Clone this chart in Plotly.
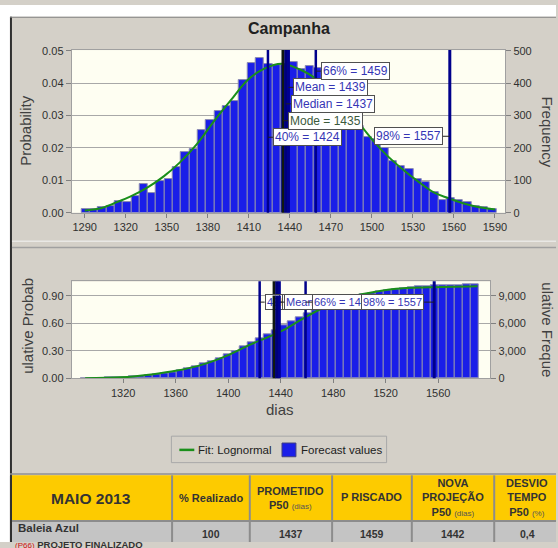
import numpy as np
import plotly.graph_objects as go

# ---------------- data ----------------
BIN_START = 1287.6          # left edge of first histogram bin (days)
BIN_WIDTH = 6.07            # bin width (days)
freq = [10, 12, 17, 20, 35, 32, 50, 88, 60, 98,
        105, 141, 186, 196, 256, 286, 314, 330, 345, 410,
        462, 476, 460, 456, 455, 466, 443, 453, 446, 372,
        338, 306, 284, 266, 232, 226, 199, 160, 145, 136,
        104, 96, 64, 38, 45, 40, 33, 21, 16, 12]

fit_x = [1290, 1301, 1312, 1324, 1336, 1348, 1360, 1372, 1385, 1397, 1409,
         1421, 1434, 1449, 1459, 1471, 1483, 1492, 1502, 1511, 1522, 1534,
         1546, 1556, 1566, 1575, 1590]
fit_p = [0.0007, 0.0013, 0.0030, 0.0051, 0.0078, 0.0113, 0.0157, 0.0212,
         0.0285, 0.0348, 0.0409, 0.0444, 0.0460, 0.0439, 0.0414, 0.0365,
         0.0308, 0.0268, 0.0217, 0.0177, 0.0136, 0.0096, 0.0061, 0.0045,
         0.0030, 0.0020, 0.0010]

cum_fit_x = [1291, 1318, 1343, 1360, 1381, 1401, 1414, 1431, 1442, 1459,
             1478, 1496, 1515, 1528, 1553, 1590]
cum_fit_p = [0.0, 0.011, 0.046, 0.082, 0.153, 0.26, 0.35, 0.456, 0.526,
             0.67, 0.81, 0.90, 0.953, 0.98, 0.996, 1.007]

marker_names = ["40%", "Mode", "Median", "Mean", "66%", "98%"]
marker_vals = [1424, 1435, 1437, 1439, 1459, 1557]
top_label_y = [0.0233, 0.0284, 0.0336, 0.0387, 0.0437, 0.0236]
bottom_label_y = 0.833

top_xticks = [1290, 1320, 1350, 1380, 1410, 1440, 1470, 1500, 1530, 1560, 1590]
bottom_xticks = [1320, 1360, 1400, 1440, 1480, 1520, 1560]

legend_labels = ["Fit: Lognormal", "Forecast values"]

table_header = ["MAIO 2013", "% Realizado", "PROMETIDO", "P RISCADO",
                "NOVA<br>PROJEÇÃO", "DESVIO<br>TEMPO"]
table_row = ["Baleia Azul", "100", "1437", "1459", "1442", "0,4"]

# ---------------- styling helpers ----------------
W, H = 558, 548
def px(x):
    return x / W
def py(y):
    return 1 - y / H

FONT = "Liberation Sans, Arial, sans-serif"
BG = "#d4d0c8"
BLUE = "#1a1ee8"
GREEN = "#1a8f1a"
LABEL_BLUE = "#3535b5"
LINE_COLORS = ["#00008b", "#101810", "#00007a", "#000090", "#00008b", "#00008b"]
LINE_WIDTHS = [2.5, 3, 3, 3, 2.5, 3]

X_TOP = [1280.5, 1597.5]
X_BOT = [1280.8, 1599.7]
Y4_RANGE = [0, 1.06]
BOT_PLOT_PX = 99.0          # height of the cumulative plot area in pixels

centers = BIN_START + BIN_WIDTH * (np.arange(len(freq)) + 0.5)
cum_freq = np.cumsum(freq)

fig = go.Figure()
fig.add_trace(go.Bar(x=centers, y=freq, width=BIN_WIDTH, xaxis="x", yaxis="y",
                     marker=dict(color=BLUE, line=dict(color="#8c8cb0", width=1)),
                     name=legend_labels[1], showlegend=False, hoverinfo="skip"))
fig.add_trace(go.Scatter(x=fit_x, y=fit_p, xaxis="x", yaxis="y2", mode="lines",
                         line=dict(color=GREEN, width=2, shape="spline"),
                         name=legend_labels[0], showlegend=False, hoverinfo="skip"))
fig.add_trace(go.Bar(x=centers, y=cum_freq, width=BIN_WIDTH, xaxis="x2", yaxis="y3",
                     marker=dict(color=BLUE, line=dict(color="#8c8cb0", width=1)),
                     showlegend=False, hoverinfo="skip"))
fig.add_trace(go.Scatter(x=cum_fit_x, y=cum_fit_p, xaxis="x2", yaxis="y4", mode="lines",
                         line=dict(color=GREEN, width=2, shape="spline"),
                         showlegend=False, hoverinfo="skip"))

tickfont = dict(family=FONT, size=11, color="#303030")
axcommon = dict(showline=True, linecolor="#a0a0a0", linewidth=1, ticks="outside",
                tickcolor="#808080", tickfont=tickfont, zeroline=False)

fig.update_layout(
    width=W, height=H, margin=dict(l=0, r=0, t=0, b=0),
    paper_bgcolor=BG, plot_bgcolor="#fefef2",
    bargap=0, barmode="overlay", showlegend=False, hovermode=False,
    font=dict(family=FONT, color="#303030"),
    xaxis=dict(domain=[px(72), px(507)], anchor="y", range=X_TOP, tickvals=top_xticks,
               ticklen=4, mirror=True, showgrid=False, **axcommon),
    yaxis=dict(anchor="x", side="right", range=[0, 502], dtick=100, ticklen=5,
               domain=[py(212), py(46)], mirror=True, showgrid=True,
               gridcolor="#a8a8a8", gridwidth=1, **axcommon),
    yaxis2=dict(anchor="x", overlaying="y", side="left", range=[0, 0.0502], dtick=0.01,
                tickformat=".2f", ticklen=5, showgrid=False, **axcommon),
    xaxis2=dict(domain=[px(72), px(492)], anchor="y3", range=X_BOT, tickvals=bottom_xticks,
                ticklen=4, mirror=True, showgrid=False, **axcommon),
    yaxis3=dict(anchor="x2", side="right", range=[0, 10600], tickvals=[0, 3000, 6000, 9000],
                tickformat=",d", ticklen=5, domain=[py(381), py(381 - BOT_PLOT_PX)], mirror=True,
                showgrid=True, gridcolor="#a8a8a8", gridwidth=1, **axcommon),
    yaxis4=dict(anchor="x2", overlaying="y3", side="left", range=Y4_RANGE,
                tickvals=[0, 0.3, 0.6, 0.9], tickformat=".2f", ticklen=5,
                showgrid=False, **axcommon),
)

shapes = []
# frame decorations
shapes += [
    dict(type="rect", xref="paper", yref="paper", x0=0, x1=px(10), y0=0, y1=1,
         fillcolor="white", line=dict(width=0), layer="below"),
    dict(type="rect", xref="paper", yref="paper", x0=0, x1=1, y0=py(12), y1=1,
         fillcolor="white", line=dict(width=0), layer="below"),
    dict(type="line", xref="paper", yref="paper", x0=px(11), x1=px(11), y0=py(12), y1=0,
         line=dict(color="#303030", width=2)),
    dict(type="line", xref="paper", yref="paper", x0=px(10), x1=1, y0=py(12.5), y1=py(12.5),
         line=dict(color="#808080", width=1)),
    dict(type="line", xref="paper", yref="paper", x0=px(12), x1=1, y0=py(241), y1=py(241),
         line=dict(color="#f4f4f4", width=1)),
    dict(type="line", xref="paper", yref="paper", x0=px(12), x1=1, y0=py(247.5), y1=py(247.5),
         line=dict(color="#a0a0a0", width=1.5)),
]

# certainty grabber triangles
for xr, yr, anchor_x, side, fill, hh in [("x", "y", X_TOP[0], -1, "#c8c8f0", 6.5),
                                          ("x", "y", X_TOP[1], 1, "#909090", 8),
                                          ("x2", "y3", X_BOT[0], -1, "#c8c8f0", 6),
                                          ("x2", "y3", X_BOT[1], 1, "#909090", 8)]:
    tip = 2 * side
    base = 12 * side
    shapes.append(dict(type="path", xref=xr, yref=yr, xsizemode="pixel", ysizemode="pixel",
                       xanchor=anchor_x, yanchor=0,
                       path=f"M {base},{hh} L {tip},0 L {base},{-hh} Z",
                       fillcolor=fill, line=dict(color="#707090", width=1), layer="above"))

# marker lines
for v, c, w in zip(marker_vals, LINE_COLORS, LINE_WIDTHS):
    shapes.append(dict(type="line", xref="x", yref="y domain", x0=v, x1=v, y0=0, y1=1,
                       line=dict(color=c, width=w), layer="above"))
    shapes.append(dict(type="line", xref="x2", yref="y3 domain", x0=v, x1=v, y0=0, y1=1,
                       line=dict(color=c, width=w), layer="above"))

# legend box (drawn by hand to match the short legend symbols)
shapes += [
    dict(type="rect", xref="paper", yref="paper", x0=px(172), x1=px(388), y0=py(467),
         y1=py(440), fillcolor=BG, line=dict(color="#a8a8a8", width=1)),
    dict(type="line", xref="paper", yref="paper", x0=px(180), x1=px(195), y0=py(454),
         y1=py(454), line=dict(color=GREEN, width=2.5)),
    dict(type="rect", xref="paper", yref="paper", x0=px(283), x1=px(297), y0=py(461),
         y1=py(447), fillcolor=BLUE, line=dict(color="#404080", width=1)),
]

# table
TABLE_TOP, TABLE_MID = 480, 526.5
col_edges = [12, 172.7, 250.7, 333.3, 413.3, 496, 562]
shapes += [
    dict(type="line", xref="paper", yref="paper", x0=px(10), x1=1, y0=py(478.5), y1=py(478.5),
         line=dict(color="#909090", width=1.5)),
    dict(type="rect", xref="paper", yref="paper", x0=px(12), x1=1, y0=py(TABLE_MID),
         y1=py(TABLE_TOP), fillcolor="#fdcb00", line=dict(width=0)),
    dict(type="rect", xref="paper", yref="paper", x0=px(12), x1=1, y0=0,
         y1=py(TABLE_MID), fillcolor="#c4c4c4", line=dict(width=0)),
    dict(type="line", xref="paper", yref="paper", x0=px(12), x1=1, y0=py(TABLE_MID),
         y1=py(TABLE_MID), line=dict(color="#8c8c8c", width=2)),
    dict(type="line", xref="paper", yref="paper", x0=px(11), x1=px(11), y0=py(TABLE_TOP), y1=0,
         line=dict(color="#303030", width=2)),
]
for e in col_edges[1:-1]:
    shapes.append(dict(type="line", xref="paper", yref="paper", x0=px(e), x1=px(e),
                       y0=py(TABLE_TOP), y1=0, line=dict(color="#8c8c8c", width=2)))

fig.update_layout(shapes=shapes)

ann = []
def pann(text, x, y, size, color="#404040", xanchor="center", yanchor="middle", angle=0):
    ann.append(dict(text=text, x=px(x), y=py(y), xref="paper", yref="paper",
                    xanchor=xanchor, yanchor=yanchor, showarrow=False, textangle=angle,
                    font=dict(family=FONT, size=size, color=color)))

# title and axis titles
pann("<b>Campanha</b>", 290, 23.5, 16, "#202020")
pann("Probability", 25.5, 128, 15, angle=-90)
pann("Frequency", 550, 129, 15, angle=90)
pann("ulative Probab", 27.5, 327, 15, angle=-90)
pann("ulative Freque", 550, 331, 15, angle=90)
pann("dias", 281, 413, 15)

# legend texts
pann(legend_labels[0], 197, 454, 11.5, "#202020", xanchor="left")
pann(legend_labels[1], 300, 454, 11.5, "#202020", xanchor="left")

# percentile / statistic labels (top)
for name, v, ly in zip(marker_names, marker_vals, top_label_y):
    right = name != "98%"
    ann.append(dict(text=f"{name} = {v}", x=v, y=ly, xref="x", yref="y2",
                    showarrow=True, arrowhead=0, arrowwidth=1, arrowcolor="#202020",
                    ax=5 if right else -7, ay=0, xanchor="left" if right else "right",
                    yanchor="middle", bgcolor="white", bordercolor="#505050",
                    borderwidth=1, borderpad=1,
                    font=dict(size=12, color="#3c5a3c" if name == "Mode" else LABEL_BLUE)))
# labels (bottom) - drawn overlapping, each new one covering the previous
for name, v in zip(marker_names, marker_vals):
    right = name != "98%"
    off = 6.5 if name == "66%" else 5
    ann.append(dict(text=f"{name} = {v}", x=v, y=bottom_label_y, xref="x2", yref="y4",
                    showarrow=True, arrowhead=0, arrowwidth=1, arrowcolor="#202020",
                    ax=off if right else -10, ay=0, xanchor="left" if right else "right",
                    yanchor="middle", bgcolor="white", bordercolor="#505050",
                    borderwidth=1, borderpad=1,
                    font=dict(size=11, color="#3c5a3c" if name == "Mode" else LABEL_BLUE)))
# mode / median / mean lines pass over the bottom label row
per_px = (Y4_RANGE[1] - Y4_RANGE[0]) / BOT_PLOT_PX
for name, v, c, w in zip(marker_names, marker_vals, LINE_COLORS, LINE_WIDTHS):
    if name in ("Mode", "Median", "Mean"):
        ann.append(dict(text="", x=v, y=bottom_label_y - 8 * per_px, xref="x2", yref="y4",
                        showarrow=True, arrowhead=0, arrowwidth=w, arrowcolor=c,
                        ax=0, ay=-16))

# table text
centers_tbl = [(col_edges[i] + col_edges[i + 1]) / 2 for i in range(len(col_edges) - 1)]
centers_tbl[0] = 91.5
small = "<span style='font-size:8px;color:#555555'>"
pann("<b>" + table_header[0] + "</b>", centers_tbl[0], 503.5, 15.5, "#333333")
pann("<b>" + table_header[1] + "</b>", centers_tbl[1], 503, 11, "#333333")
pann("<b>" + table_header[2] + "</b><br><b>P50</b> " + small + "(dias)</span>",
     centers_tbl[2], 503.5, 11, "#333333")
pann("<b>" + table_header[3] + "</b>", centers_tbl[3], 502.5, 11, "#333333")
pann("<b>" + table_header[4].replace("<br>", "</b><br><b>") +
     "</b><br><b>P50</b> " + small + "(dias)</span>", centers_tbl[4], 503, 11, "#333333")
pann("<b>" + table_header[5].replace("<br>", "</b><br><b>") +
     "</b><br><b>P50</b> " + small + "(%)</span>", centers_tbl[5], 503, 11, "#333333")
pann("<b>" + table_row[0] + "</b>", 16, 534, 11.5, "#333333", xanchor="left")
pann("<span style='color:#d01010;font-size:8px'>(P66)</span> <b>PROJETO FINALIZADO</b>",
     13, 543, 9.5, "#333333", xanchor="left", yanchor="top")
for i in range(1, 6):
    pann("<b>" + table_row[i] + "</b>", centers_tbl[i], 539.5, 10.5, "#333333")

fig.update_layout(annotations=ann)

fig.write_html("out.html", config={"displayModeBar": False},
               post_script="document.body.style.margin='0';document.body.style.overflow='hidden';")
